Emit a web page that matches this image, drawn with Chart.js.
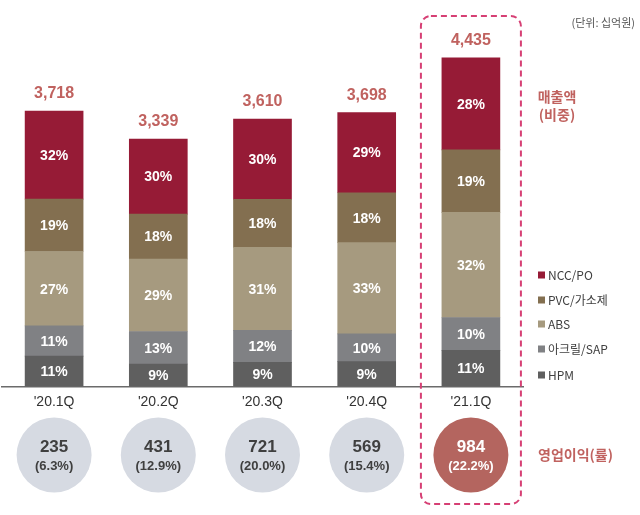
<!DOCTYPE html>
<html><head><meta charset="utf-8">
<script src="https://cdn.jsdelivr.net/npm/chart.js@4/dist/chart.umd.min.js"></script>
<style>html,body{margin:0;padding:0;background:#fff}#wrap{width:640px;height:515px;position:relative}</style>
</head><body><div id="wrap"><canvas id="c" width="640" height="515"></canvas></div>
<script>
// ---- data ----
const categories = ["'20.1Q", "'20.2Q", "'20.3Q", "'20.4Q", "'21.1Q"];
const totals = [3718, 3339, 3610, 3698, 4435];
const seriesNames = ["HPM", "아크릴/SAP", "ABS", "PVC/가소제", "NCC/PO"];
const hpmPct = [11, 9, 9, 9, 11];
const acrylPct = [11, 13, 12, 10, 10];
const absPct = [27, 29, 31, 33, 32];
const pvcPct = [19, 18, 18, 18, 19];
const nccPct = [32, 30, 30, 29, 28];
const opProfit = [235, 431, 721, 569, 984];
const opMargin = ["6.3%", "12.9%", "20.0%", "15.4%", "22.2%"];
const seriesColors = ["#5f5f5f", "#808184", "#a69a7f", "#836f50", "#961b36"];

const pctSeries = [hpmPct, acrylPct, absPct, pvcPct, nccPct];
const pctSums = categories.map((_, i) => pctSeries.reduce((s, a) => s + a[i], 0));
const FONT = "'Liberation Sans', 'Noto Sans CJK KR', Arial, sans-serif";
const KFONT = "'Noto Sans CJK KR', 'Liberation Sans', sans-serif";

const datasets = pctSeries.map((arr, k) => ({
  label: seriesNames[k],
  data: arr.map((p, i) => totals[i] * p / pctSums[i]),
  pct: arr,
  backgroundColor: seriesColors[k],
  borderWidth: 0,
  barThickness: 58
}));

const overlay = {
  id: 'overlay',
  afterDatasetsDraw(chart) {
    const ctx = chart.ctx;
    ctx.save();
    ctx.textAlign = 'center';
    ctx.textBaseline = 'middle';
    // segment labels
    chart.data.datasets.forEach((ds, di) => {
      const meta = chart.getDatasetMeta(di);
      meta.data.forEach((el, i) => {
        ctx.fillStyle = '#ffffff';
        ctx.font = 'bold 14px ' + FONT;
        ctx.fillText(ds.pct[i] + '%', el.x, (el.y + el.base) / 2 + 1);
      });
    });
    // totals
    const topMeta = chart.getDatasetMeta(chart.data.datasets.length - 1);
    topMeta.data.forEach((el, i) => {
      ctx.fillStyle = '#c0625f';
      ctx.font = 'bold 16px ' + FONT;
      ctx.fillText(totals[i].toLocaleString('en-US'), el.x, el.y - 17);
    });
    ctx.restore();
  },
  afterDraw(chart) {
    const ctx = chart.ctx;
    const xs = chart.scales.x;
    ctx.save();
    // circles
    categories.forEach((c, i) => {
      const cx = xs.getPixelForValue(i);
      const cy = 455;
      const last = i === categories.length - 1;
      ctx.beginPath();
      ctx.arc(cx, cy, 37.5, 0, Math.PI * 2);
      ctx.fillStyle = last ? '#b4655f' : '#d6dae2';
      ctx.fill();
      ctx.textAlign = 'center';
      ctx.textBaseline = 'middle';
      ctx.fillStyle = last ? '#ffffff' : '#3f3f3f';
      ctx.font = 'bold 17px ' + FONT;
      ctx.fillText(String(opProfit[i]), cx, cy - 8);
      ctx.font = 'bold 13px ' + FONT;
      ctx.fillText('(' + opMargin[i] + ')', cx, cy + 11);
    });
    // dashed highlight box
    const hx = xs.getPixelForValue(categories.length - 1);
    const x0 = hx - 50, x1 = hx + 50, y0 = 16, y1 = 504, r = 10;
    ctx.beginPath();
    ctx.setLineDash([6, 4]);
    ctx.lineWidth = 2;
    ctx.strokeStyle = '#d63f74';
    ctx.moveTo(x0 + r, y0);
    ctx.lineTo(x1 - r, y0);
    ctx.arcTo(x1, y0, x1, y0 + r, r);
    ctx.lineTo(x1, y1 - r);
    ctx.arcTo(x1, y1, x1 - r, y1, r);
    ctx.lineTo(x0 + r, y1);
    ctx.arcTo(x0, y1, x0, y1 - r, r);
    ctx.lineTo(x0, y0 + r);
    ctx.arcTo(x0, y0, x0 + r, y0, r);
    ctx.closePath();
    ctx.stroke();
    ctx.setLineDash([]);
    // side texts
    ctx.fillStyle = '#c0625f';
    ctx.textAlign = 'center';
    ctx.font = 'bold 14px ' + KFONT;
    ctx.fillText('매출액', 557, 97);
    ctx.fillText('(비중)', 557, 115);
    ctx.textAlign = 'left';
    ctx.font = 'bold 14px ' + KFONT;
    ctx.fillText('영업이익(률)', 538, 455);
    ctx.fillStyle = '#555555';
    ctx.textAlign = 'right';
    ctx.font = '11px ' + KFONT;
    ctx.fillText('(단위: 십억원)', 635, 23);
    // legend (top to bottom: NCC/PO ... HPM)
    const ly = [275, 300, 324, 349, 375];
    ctx.textAlign = 'left';
    for (let k = 0; k < seriesNames.length; k++) {
      const di = seriesNames.length - 1 - k;
      ctx.fillStyle = seriesColors[di];
      ctx.fillRect(538, ly[k] - 3.5, 7, 7);
      ctx.fillStyle = '#404040';
      ctx.font = '12px ' + KFONT;
      ctx.fillText(seriesNames[di], 548, ly[k]);
    }
    ctx.restore();
  }
};

new Chart(document.getElementById('c'), {
  type: 'bar',
  data: { labels: categories, datasets },
  options: {
    responsive: false,
    animation: false,
    devicePixelRatio: 1,
    layout: { padding: { top: 16, left: 2, right: 117, bottom: 88.5 } },
    plugins: { legend: { display: false }, tooltip: { enabled: false } },
    scales: {
      x: {
        stacked: true,
        grid: { display: false, drawTicks: false },
        border: { display: true, color: '#6b6b6b', width: 1.5 },
        ticks: { color: '#333333', font: { size: 14, family: FONT }, padding: 7 },
        afterFit(scale) { scale.height = 40; }
      },
      y: {
        stacked: true,
        display: false,
        min: 0,
        max: 5000
      }
    }
  },
  plugins: [overlay]
});
</script>
</body></html>
